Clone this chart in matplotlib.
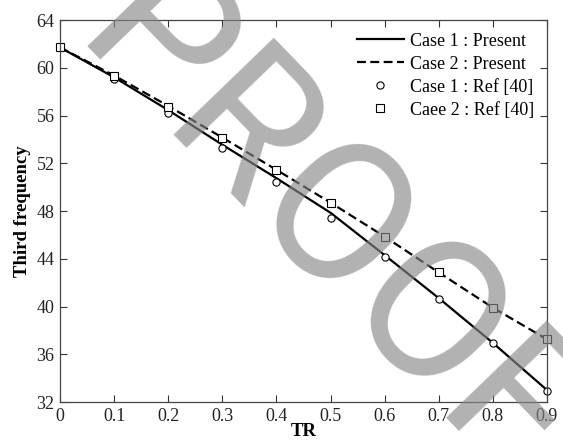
import numpy as np
import matplotlib
matplotlib.use("Agg")
from matplotlib import pyplot as plt

# data
tr = [0.0, 0.1, 0.2, 0.3, 0.4, 0.5, 0.6, 0.7, 0.8, 0.9]
case1_present = [61.7, 59.2, 56.45, 53.55, 50.75, 47.85, 44.3, 40.7, 36.95, 33.0]
case2_present = [61.7, 59.35, 56.8, 54.15, 51.45, 48.7, 45.85, 42.85, 39.9, 37.25]
case1_ref = [61.7, 59.06, 56.24, 53.3, 50.43, 47.39, 44.15, 40.63, 36.97, 32.95]
case2_ref = [61.7, 59.31, 56.74, 54.14, 51.44, 48.7, 45.84, 42.87, 39.9, 37.25]

xticks = [0, 0.1, 0.2, 0.3, 0.4, 0.5, 0.6, 0.7, 0.8, 0.9]
xticklabels = ['0', '0.1', '0.2', '0.3', '0.4', '0.5', '0.6', '0.7', '0.8', '0.9']
yticks = [32, 36, 40, 44, 48, 52, 56, 60, 64]

plt.rcParams['font.family'] = ['Liberation Serif', 'DejaVu Serif']

fig = plt.figure(figsize=(5.63, 4.4), dpi=100)
ax = fig.add_axes([60/563, 1-402/440, 487/563, 382/440])

ax.plot(tr, case1_present, color='black', lw=1.6, label='Case 1 : Present')
ax.plot(tr, case2_present, color='black', lw=1.6, ls=(0, (4, 2)), label='Case 2 : Present')
ax.plot(tr, case1_ref, ls='none', marker='o', ms=5.2, mfc='white', mec='black', mew=0.8,
        label='Case 1 : Ref [40]', clip_on=False)
ax.plot(tr, case2_ref, ls='none', marker='s', ms=5.6, mfc='white', mec='black', mew=0.8,
        label='Caee 2 : Ref [40]', clip_on=False)

ax.set_xlim(0, 0.9)
ax.set_ylim(32, 64)
ax.set_xticks(xticks)
ax.set_xticklabels(xticklabels)
ax.set_yticks(yticks)
ax.tick_params(direction='in', length=5, width=0.8, top=True, right=True,
               labelsize=13, colors='#333333', labelcolor='#222222', pad=4)
for s in ax.spines.values():
    s.set_color('#444444')
    s.set_linewidth(0.9)

ax.set_xlabel('TR', fontsize=13.5, fontweight='bold', labelpad=-1)
ax.set_ylabel('Third frequency', fontsize=13.5, fontweight='bold', labelpad=4)

leg = ax.legend(loc='upper right', frameon=False, fontsize=13, handlelength=2.6,
                handletextpad=0.35, labelspacing=0.33, borderaxespad=0.3,
                bbox_to_anchor=(1.0, 1.0))

# PROOF watermark over the plot
fig.text(70/563, 1-46/440, 'PROOF', family='Roboto', fontsize=142,
         color='#888888', alpha=0.65, rotation=-46, rotation_mode='anchor',
         ha='left', va='baseline', zorder=10)

fig.savefig('out.png', dpi=100)
